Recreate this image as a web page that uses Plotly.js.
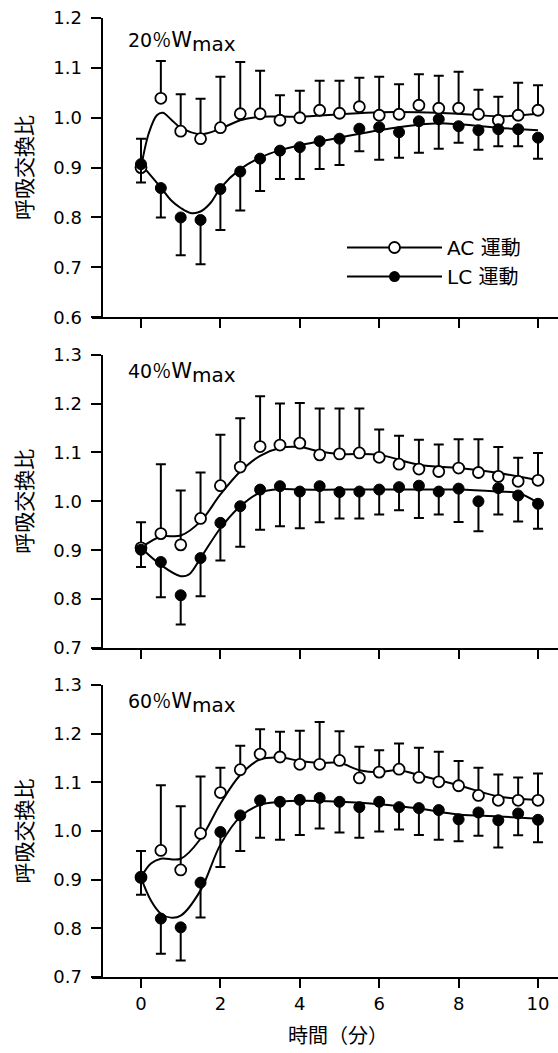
<!DOCTYPE html>
<html><head><meta charset="utf-8">
<script src="https://cdn.plot.ly/plotly-3.0.1.min.js"></script>
<style>body{margin:0;background:#fff}#chart{width:558px;height:1053px}</style>
</head><body><div id="chart"></div>
<script>
// time points (min)
const timeMin = [0,0.5,1,1.5,2,2.5,3,3.5,4,4.5,5,5.5,6,6.5,7,7.5,8,8.5,9,9.5,10];
const loads = ['20','40','60'];
const seriesNames = ['AC 運動','LC 運動'];
const yTitle = '呼吸交換比';
const xTitle = '時間（分）';
const xTicks = [0,2,4,6,8,10];

// 20% Wmax
const ac20   = [0.900,1.039,0.973,0.958,0.980,1.008,1.008,0.995,1.000,1.015,1.009,1.022,1.005,1.007,1.025,1.019,1.019,1.007,0.995,1.005,1.015];
const ac20Up = [0.958,1.114,1.047,1.038,1.082,1.112,1.094,1.045,1.054,1.074,1.074,1.080,1.082,1.067,1.087,1.084,1.092,1.056,1.042,1.070,1.065];
const lc20   = [0.907,0.859,0.800,0.795,0.857,0.892,0.918,0.934,0.941,0.953,0.958,0.978,0.981,0.971,0.993,0.997,0.983,0.975,0.977,0.977,0.960];
const lc20Lo = [0.870,0.800,0.724,0.706,0.775,0.814,0.853,0.877,0.877,0.897,0.905,0.933,0.916,0.920,0.930,0.938,0.950,0.936,0.943,0.943,0.918];
const fitAc20X = [0,0.2,0.4,0.55,0.75,1,1.5,2,2.5,3,4,5,6,7,8,9,10];
const fitAc20  = [0.900,0.970,1.005,1.010,0.997,0.980,0.967,0.978,0.995,1.002,1.002,1.007,1.011,1.011,1.008,1.003,1.008];
const fitLc20X = [0,0.5,0.75,1,1.25,1.5,1.75,2,2.5,3,3.5,4,5,6,7,7.5,8,9,10];
const fitLc20  = [0.907,0.860,0.835,0.819,0.809,0.812,0.829,0.859,0.897,0.920,0.935,0.945,0.960,0.975,0.986,0.989,0.987,0.980,0.975];

// 40% Wmax
const ac40   = [0.905,0.934,0.911,0.965,1.032,1.070,1.112,1.115,1.119,1.095,1.097,1.099,1.090,1.076,1.066,1.061,1.068,1.059,1.051,1.041,1.043];
const ac40Up = [0.957,1.076,1.022,1.059,1.136,1.170,1.215,1.200,1.201,1.190,1.190,1.190,1.147,1.134,1.126,1.116,1.127,1.127,1.111,1.089,1.099];
const lc40   = [0.901,0.876,0.808,0.884,0.956,0.990,1.024,1.031,1.020,1.031,1.019,1.020,1.024,1.029,1.032,1.020,1.026,1.000,1.027,1.012,0.995];
const lc40Lo = [0.866,0.804,0.748,0.806,0.879,0.907,0.942,0.949,0.945,0.957,0.965,0.965,0.973,0.982,0.966,0.973,0.958,0.939,0.973,0.959,0.944];
const fitAc40X = [0,0.5,1,1.5,2,2.5,3,3.5,4,4.5,5,6,7,8,9,10];
const fitAc40  = [0.905,0.928,0.930,0.959,1.014,1.061,1.093,1.109,1.111,1.102,1.097,1.095,1.075,1.068,1.058,1.043];
const fitLc40X = [0,0.5,1,1.2,1.5,2,2.5,3,3.5,4,5,6,7,8,9,9.5,10];
const fitLc40  = [0.905,0.870,0.847,0.850,0.884,0.945,0.990,1.018,1.025,1.024,1.024,1.024,1.024,1.024,1.020,1.017,0.997];

// 60% Wmax
const ac60   = [0.905,0.960,0.920,0.995,1.079,1.126,1.158,1.152,1.137,1.137,1.145,1.109,1.121,1.127,1.110,1.101,1.093,1.073,1.063,1.063,1.063];
const ac60Up = [0.959,1.094,1.051,1.112,1.130,1.175,1.209,1.204,1.206,1.224,1.205,1.173,1.166,1.180,1.171,1.163,1.144,1.130,1.116,1.110,1.118];
const lc60   = [0.904,0.820,0.802,0.894,0.998,1.032,1.063,1.060,1.064,1.068,1.060,1.049,1.060,1.049,1.047,1.043,1.024,1.038,1.022,1.036,1.023];
const lc60Lo = [0.869,0.748,0.734,0.822,0.926,0.959,0.986,0.982,0.992,1.005,0.997,0.986,0.999,1.003,0.992,0.982,0.979,0.990,0.966,0.991,0.977];
const fitAc60X = [0,0.25,0.5,1,1.5,2,2.5,3,3.5,4,4.5,5,5.5,6,6.5,7,8,9,10];
const fitAc60  = [0.905,0.933,0.943,0.943,0.984,1.056,1.115,1.147,1.151,1.144,1.140,1.140,1.125,1.121,1.125,1.115,1.094,1.071,1.064];
const fitLc60X = [0,0.25,0.5,0.75,1,1.5,2,2.5,3,3.5,4,5,6,7,8,9,10];
const fitLc60  = [0.904,0.857,0.830,0.822,0.826,0.878,0.972,1.029,1.054,1.060,1.062,1.060,1.055,1.046,1.034,1.030,1.025];

const panels = [
  {ac:ac20, acUp:ac20Up, lc:lc20, lcLo:lc20Lo, fAcX:fitAc20X, fAc:fitAc20, fLcX:fitLc20X, fLc:fitLc20, range:[0.6,1.2], dom:[0.688,1.0]},
  {ac:ac40, acUp:ac40Up, lc:lc40, lcLo:lc40Lo, fAcX:fitAc40X, fAc:fitAc40, fLcX:fitLc40X, fLc:fitLc40, range:[0.7,1.3], dom:[0.343,0.649]},
  {ac:ac60, acUp:ac60Up, lc:lc60, lcLo:lc60Lo, fAcX:fitAc60X, fAc:fitAc60, fLcX:fitLc60X, fLc:fitLc60, range:[0.7,1.3], dom:[0.0,0.3045]}
];

const FONT = 'DejaVu Sans, Noto Sans CJK JP, sans-serif';
const CJK = 'Noto Sans CJK JP, sans-serif';
const L = 92, W = 558 - L;
const traces = [];
const layout = {
  width:558, height:1053,
  margin:{l:L, r:0, t:18, b:76},
  paper_bgcolor:'#fff', plot_bgcolor:'#fff',
  showlegend:true,
  legend:{x:(342-L)/W, y:0.781, xanchor:'left', yanchor:'top', bgcolor:'rgba(0,0,0,0)',
          font:{family:FONT, size:20, color:'#000'}, itemwidth:95, tracegroupgap:0},
  annotations:[], font:{family:FONT, color:'#000'}
};
const pxPerMin = 39.7, x0px = 141;
const xr = [(L - x0px)/pxPerMin, (558 - x0px)/pxPerMin];
const labelY = [0.977, 0.631, 0.287];

panels.forEach((p, i) => {
  const n = i === 0 ? '' : String(i+1);
  const xa = 'x'+n, ya = 'y'+n;
  traces.push({x:p.fAcX, y:p.fAc, xaxis:xa, yaxis:ya, mode:'lines', showlegend:false,
    line:{shape:'spline', smoothing:1, color:'#000', width:2}, hoverinfo:'skip'});
  traces.push({x:p.fLcX, y:p.fLc, xaxis:xa, yaxis:ya, mode:'lines', showlegend:false,
    line:{shape:'spline', smoothing:1, color:'#000', width:2}, hoverinfo:'skip'});
  traces.push({x:timeMin, y:p.ac, xaxis:xa, yaxis:ya, mode:'markers', showlegend:false,
    marker:{symbol:'circle', size:11, color:'#fff', line:{color:'#000', width:1.8}},
    error_y:{type:'data', symmetric:false, array:p.acUp.map((v,k)=>v-p.ac[k]), arrayminus:p.ac.map(()=>0),
             color:'#000', thickness:2, width:5}});
  traces.push({x:timeMin, y:p.lc, xaxis:xa, yaxis:ya, mode:'markers', showlegend:false,
    marker:{symbol:'circle', size:11, color:'#000', line:{color:'#000', width:1}},
    error_y:{type:'data', symmetric:false, array:p.lc.map(()=>0), arrayminus:p.lc.map((v,k)=>v-p.lcLo[k]),
             color:'#000', thickness:2, width:5}});

  layout['xaxis'+n] = {domain:[0,1], anchor:ya, range:xr, tickvals:xTicks, ticks:'outside', ticklen:9, tickwidth:2,
    tickcolor:'#000', showline:true, linecolor:'#000', linewidth:2, showgrid:false, zeroline:false,
    showticklabels:i===2, tickfont:{family:FONT, size:18, color:'#000'}};
  layout['yaxis'+n] = {domain:p.dom, anchor:'free', position:(101.5-L)/W, range:p.range, dtick:0.1, tick0:0,
    tickformat:'.1f', ticks:'outside', ticklen:10, tickwidth:2, tickcolor:'#000', showline:true, linecolor:'#000',
    linewidth:2, showgrid:false, zeroline:false, ticklabelstandoff:5, tickfont:{family:FONT, size:18, color:'#000'},
    title:{text:yTitle, font:{family:CJK, size:21, color:'#000'}, standoff:14}};
  layout.annotations.push({xref:'paper', yref:'paper', x:(126-L)/W, y:labelY[i], xanchor:'left', yanchor:'middle',
    showarrow:false,
    text:"<span style='font-size:19px'>"+loads[i]+"</span><span style='font-family:Noto Sans CJK JP;font-size:19px'>％</span><span style='font-size:21px'>W</span><sub><span style='font-size:20px'>max</span></sub>",
    font:{family:FONT, size:20, color:'#000'}});
});
// x-axis title, centred under the data span as in the original figure
layout.annotations.push({xref:'paper', yref:'paper', x:(338-L)/W, y:(977-1034)/959, xanchor:'center', yanchor:'middle',
  showarrow:false, text:xTitle, font:{family:CJK, size:20, color:'#000'}});

// legend entries
traces.push({x:[null], y:[null], xaxis:'x', yaxis:'y', mode:'lines+markers', name:seriesNames[0],
  line:{color:'#000', width:2}, marker:{size:11, color:'#fff', line:{color:'#000', width:1.8}}});
traces.push({x:[null], y:[null], xaxis:'x', yaxis:'y', mode:'lines+markers', name:seriesNames[1],
  line:{color:'#000', width:2}, marker:{size:11, color:'#000'}});

Plotly.newPlot('chart', traces, layout, {displayModeBar:false, staticPlot:true});
</script></body></html>
